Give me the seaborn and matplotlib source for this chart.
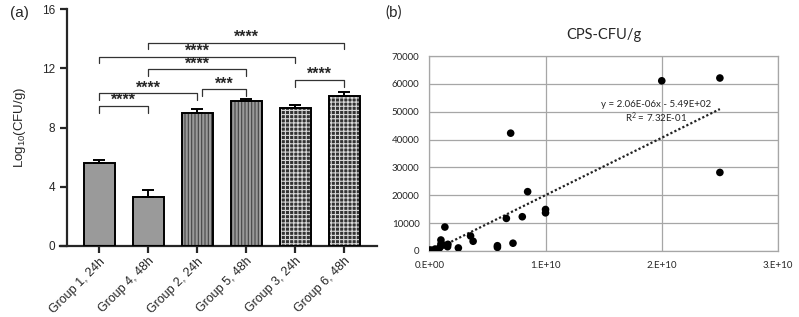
import numpy as np
import pandas as pd
import seaborn as sns
import matplotlib.pyplot as plt
from matplotlib.patches import Rectangle

# panel (a): log10 CFU/g per group
groups = ['Group 1, 24h', 'Group 4, 48h', 'Group 2, 24h', 'Group 5, 48h', 'Group 3, 24h', 'Group 6, 48h']
means = [5.57, 3.27, 9.00, 9.82, 9.30, 10.16]
errs = [0.25, 0.50, 0.25, 0.11, 0.25, 0.27]
hatches = ['', '', '|||||', '|||||', '++++', '++++']

# significance brackets: (from, to, height, label)
brackets = [
    (0, 1, 9.46, '****'),
    (0, 2, 10.32, '****'),
    (2.1, 3, 10.59, '***'),
    (4, 5, 11.22, '****'),
    (1, 3, 11.94, '****'),
    (0, 4, 12.80, '****'),
    (1, 5, 13.75, '****'),
]

# panel (b): CPS vs CFU/g
cfu = [0.06e9, 0.2e9, 0.5e9, 0.9e9, 1.0e9, 1.0e9, 1.2e9, 1.34e9, 1.57e9, 1.6e9,
       2.5e9, 3.55e9, 3.77e9, 5.86e9, 5.86e9, 6.63e9, 7.0e9, 7.2e9, 8.0e9, 8.46e9,
       1.0e10, 1.0e10, 2.0e10, 2.5e10, 2.5e10]
cps = [360, 250, 700, 1200, 3950, 2500, 2150, 8600, 1550, 2400,
       1100, 5400, 3500, 1900, 1300, 11700, 42300, 2800, 12300, 21300,
       14900, 13700, 61100, 62100, 28200]
slope, intercept = 2.06e-06, -5.49e+02
eq_text = 'y = 2.06E-06x - 5.49E+02'
r2_text = 'R$^2$ = 7.32E-01'
xticks_b = [0, 1e10, 2e10, 3e10]
xlabels_b = ['0.E+00', '1.E+10', '2.E+10', '3.E+10']
yticks_b = list(range(0, 70001, 10000))

sns.set_style('ticks')
plt.rcParams['font.family'] = ['Liberation Sans', 'DejaVu Sans']
plt.rcParams['mathtext.default'] = 'regular'
plt.rcParams['hatch.linewidth'] = 0.8

W, H = 799, 317
fig = plt.figure(figsize=(W / 100, H / 100), dpi=100)

# ---------- panel (a) ----------
ax = fig.add_axes([60 / W, 1 - 245.7 / H, (377 - 60) / W, (245.7 - 9.3) / H])
df = pd.DataFrame({'group': groups, 'value': means})
sns.barplot(data=df, x='group', y='value', order=groups, color='#9a9a9a',
            width=0.63, saturation=1, ax=ax, errorbar=None)

for p, h in zip(ax.patches, hatches):
    if h == '++++':
        p.set_facecolor('#333333')
        p.set_edgecolor('#d8d8d8')
    else:
        p.set_edgecolor('#444444')
    p.set_hatch(h)
    p.set_linewidth(0)
    ax.add_patch(Rectangle(p.get_xy(), p.get_width(), p.get_height(),
                           fill=False, ec='black', lw=1.4, zorder=3))

xs = np.arange(len(groups))
ax.errorbar(xs, means, yerr=[np.zeros(len(errs)), errs], fmt='none',
            ecolor='black', elinewidth=1.4, capsize=4, capthick=1.4, zorder=2)

for a, b, y, lab in brackets:
    ax.plot([a, a, b, b], [y - 0.45, y, y, y - 0.45], color='#333333', lw=0.9, clip_on=False)
    ax.text((a + b) / 2, y + 0.05, lab, ha='center', va='baseline',
            fontsize=11.5, fontweight='bold')

ax.set_xlim(-0.8, 5.67)
ax.set_ylim(0, 16)
ax.set_yticks([0, 4, 8, 12, 16])
ax.spines['left'].set_position(('data', -0.66))
ax.spines['left'].set_linewidth(1.6)
ax.spines['bottom'].set_linewidth(1.6)
sns.despine(ax=ax)
ax.tick_params(axis='both', width=1.6, length=5, labelsize=8.5)
ax.tick_params(axis='x', labelsize=9, pad=2)
ax.set_xlabel('')
ax.set_ylabel('Log$_{10}$(CFU/g)', fontsize=9.5, labelpad=10)
ax.set_xticks(xs)
ax.set_xticklabels(groups, rotation=45, ha='right', rotation_mode='anchor')
fig.text(10 / W, 1 - 13 / H, '(a)', fontsize=11, va='center')

# ---------- panel (b) ----------
bx = fig.add_axes([429.3 / W, 1 - 251 / H, (778 - 429.3) / W, (251 - 56) / H])
sns.scatterplot(x=cfu, y=cps, color='black', s=30, edgecolor='none', ax=bx, zorder=3)
xl = np.array([1.2e9, max(cfu)])
bx.plot(xl, slope * xl + intercept, linestyle=(0, (1, 1)), color='#222222', lw=1.6, zorder=2)
bx.text(1.95e10, 52600, eq_text, ha='center', va='center', fontsize=7, family=['Lato', 'DejaVu Sans'])
bx.text(1.95e10, 48000, r2_text, ha='center', va='center', fontsize=7, family=['Lato', 'DejaVu Sans'])

bx.set_xlim(0, 3e10)
bx.set_ylim(0, 70000)
bx.set_xticks(xticks_b)
bx.set_xticklabels(xlabels_b)
bx.set_yticks(yticks_b)
bx.grid(True, color='#a6a6a6', lw=0.9)
bx.set_axisbelow(True)
for s in bx.spines.values():
    s.set_color('#a6a6a6')
    s.set_linewidth(0.9)
bx.tick_params(length=0, labelsize=7, pad=7)
for lbl in bx.get_xticklabels() + bx.get_yticklabels():
    lbl.set_family(['Lato', 'DejaVu Sans'])
bx.set_title('CPS-CFU/g', fontsize=10.5, pad=12, family=['Lato', 'DejaVu Sans'])
fig.text(385 / W, 1 - 13 / H, '(b)', fontsize=11, va='center', family=['Lato', 'DejaVu Sans'])

fig.savefig('out.png', dpi=100)
